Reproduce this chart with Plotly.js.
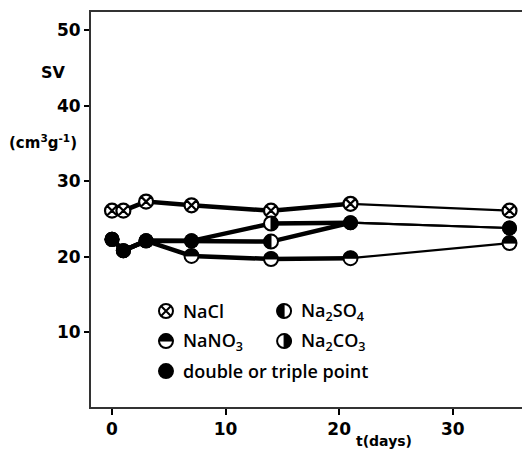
<!DOCTYPE html>
<html>
<head>
<meta charset="utf-8">
<script src="https://cdn.plot.ly/plotly-3.0.1.min.js"></script>
<style>html,body{margin:0;padding:0;background:#fff;}#chart{width:522px;height:452px;}</style>
</head>
<body>
<div id="chart"></div>
<script>
// ---- data ----
const days   = [0, 1, 3, 7, 14, 21, 35];
const nacl   = [26.1, 26.1, 27.3, 26.8, 26.1, 27.0, 26.1];
const na2so4 = [22.3, 20.8, 22.1, 22.1, 22.0, 24.5, 23.8];
const na2co3 = [22.3, 20.8, 22.1, 22.1, 24.4, 24.5, 23.8];
const nano3  = [22.3, 20.8, 22.1, 20.1, 19.7, 19.8, 21.8];
const xTicks = [0, 10, 20, 30];
const yTicks = [10, 20, 30, 40, 50];

const others = [
  {y: na2so4, kind: 'left'},
  {y: na2co3, kind: 'right'},
  {y: nano3,  kind: 'top'}
];

// symbol builder: shapes anchored at a point, sized in pixels
function symbolShapes(kind, xref, yref, xa, ya, r) {
  const base = {xref: xref, yref: yref, xsizemode: 'pixel', ysizemode: 'pixel', xanchor: xa, yanchor: ya, layer: 'above'};
  const k = 0.5523 * r;
  const out = [];
  out.push(Object.assign({}, base, {type: 'circle', x0: -r, x1: r, y0: -r, y1: r,
    fillcolor: kind === 'full' ? '#000' : '#fff', line: {color: '#000', width: 2}}));
  let p = null;
  if (kind === 'left')  p = `M0,${-r} C${-k},${-r} ${-r},${-k} ${-r},0 C${-r},${k} ${-k},${r} 0,${r} Z`;
  if (kind === 'right') p = `M0,${-r} C${k},${-r} ${r},${-k} ${r},0 C${r},${k} ${k},${r} 0,${r} Z`;
  if (kind === 'top')   p = `M${-r},0 C${-r},${k} ${-k},${r} 0,${r} C${k},${r} ${r},${k} ${r},0 Z`;
  if (p) out.push(Object.assign({}, base, {type: 'path', path: p, fillcolor: '#000', line: {color: '#000', width: 1}}));
  if (kind === 'x') {
    const d = r * 0.7071;
    out.push(Object.assign({}, base, {type: 'path',
      path: `M${-d},${-d} L${d},${d} M${-d},${d} L${d},${-d}`, line: {color: '#000', width: 2}}));
  }
  return out;
}

const traces = [];
const shapes = [];
const thickEnd = days.indexOf(21);

function addLines(y) {
  traces.push({x: days.slice(0, thickEnd + 1), y: y.slice(0, thickEnd + 1), mode: 'lines',
    line: {color: '#000', width: 4.5}, hoverinfo: 'skip', showlegend: false});
  traces.push({x: days.slice(thickEnd), y: y.slice(thickEnd), mode: 'lines',
    line: {color: '#000', width: 2.2}, hoverinfo: 'skip', showlegend: false});
}
addLines(nacl);
others.forEach(o => addLines(o.y));

// NaCl points
traces.push({x: days, y: nacl, mode: 'markers', showlegend: false, hoverinfo: 'skip',
  marker: {symbol: 'circle-x', size: 14, color: '#fff', line: {color: '#000', width: 2.2}}});

// other points: shared (double/triple) -> black disc; single -> half-filled symbol
const dblX = [], dblY = [];
others.forEach((o, i) => {
  days.forEach((d, k) => {
    const shared = others.some((p, j) => j !== i && p.y[k] === o.y[k]);
    if (shared) { dblX.push(d); dblY.push(o.y[k]); }
    else { symbolShapes(o.kind, 'x', 'y', d, o.y[k], 7).forEach(s => shapes.push(s)); }
  });
});
traces.push({x: dblX, y: dblY, mode: 'markers', showlegend: false, hoverinfo: 'skip',
  marker: {symbol: 'circle', size: 15, color: '#000'}});

// legend (symbols as shapes, text as annotations)
const legendItems = [
  {kind: 'x',     x: 0.174, y: 0.243, text: 'NaCl'},
  {kind: 'left',  x: 0.448, y: 0.243, text: 'Na<sub>2</sub>SO<sub>4</sub>'},
  {kind: 'top',   x: 0.174, y: 0.167, text: 'NaNO<sub>3</sub>'},
  {kind: 'right', x: 0.448, y: 0.167, text: 'Na<sub>2</sub>CO<sub>3</sub>'},
  {kind: 'full',  x: 0.174, y: 0.091, text: 'double or triple point'}
];
const lf = {family: 'Open Sans', size: 18, color: '#000', weight: 600};
const annotations = [
  {xref: 'paper', yref: 'paper', x: -0.086, y: 0.848, xanchor: 'center', yanchor: 'middle', text: 'SV', showarrow: false,
    font: {family: 'DejaVu Sans', size: 16, color: '#000', weight: 'bold'}},
  {xref: 'paper', yref: 'paper', x: -0.111, y: 0.671, xanchor: 'center', yanchor: 'middle', text: '(cm<sup>3</sup>g<sup>-1</sup>)', showarrow: false,
    font: {family: 'DejaVu Sans', size: 15, color: '#000', weight: 'bold'}},
  {xref: 'paper', yref: 'paper', x: 0.68, y: -0.085, xanchor: 'center', yanchor: 'middle', text: 't(days)', showarrow: false,
    font: {family: 'DejaVu Sans', size: 14, color: '#000', weight: 'bold'}}
];
legendItems.forEach(it => {
  symbolShapes(it.kind, 'paper', 'paper', it.x, it.y, 7).forEach(s => shapes.push(s));
  annotations.push({xref: 'paper', yref: 'paper', x: it.x + 0.035, y: it.y, xanchor: 'left', yanchor: 'middle',
    text: it.text, showarrow: false, font: lf});
});

const tf = {family: 'DejaVu Sans', size: 17, color: '#000', weight: 'bold'};
const layout = {
  width: 522, height: 452,
  margin: {l: 91, r: 0, t: 12, b: 45},
  paper_bgcolor: '#fff', plot_bgcolor: '#fff',
  showlegend: false,
  font: {family: 'Open Sans', color: '#000'},
  xaxis: {range: [-1.85, 36.1], tickvals: xTicks, ticktext: xTicks.map(String),
    showgrid: false, zeroline: false, showline: true, mirror: true,
    linecolor: '#333', linewidth: 2, ticks: 'outside', ticklen: 6, tickwidth: 2, tickcolor: '#000',
    tickfont: tf},
  yaxis: {range: [0.1, 52.4], tickvals: yTicks, ticktext: yTicks.map(String),
    showgrid: false, zeroline: false, showline: true, mirror: false,
    linecolor: '#333', linewidth: 2, ticks: 'outside', ticklen: 5, tickwidth: 2, tickcolor: '#000',
    tickfont: tf},
  shapes: shapes,
  annotations: annotations
};

Plotly.newPlot('chart', traces, layout, {displayModeBar: false, staticPlot: true});
</script>
</body>
</html>
